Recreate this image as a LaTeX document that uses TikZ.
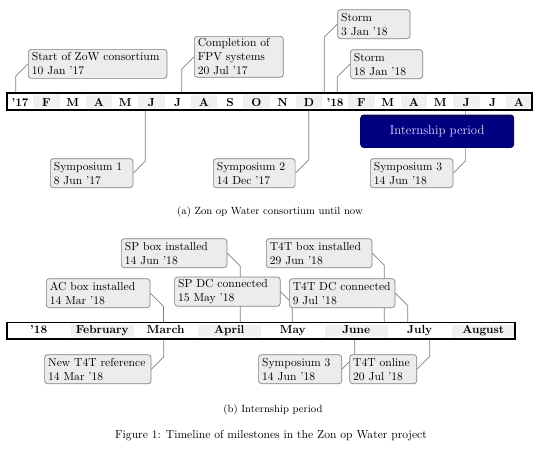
\documentclass[tikz,border=0pt]{standalone}
\usepackage{xcolor}
\usepackage{tikz}
\usetikzlibrary{calc, positioning, backgrounds}
\definecolor{navy}{rgb}{0,0,0.5}
\tikzset{
  event/.style={draw=gray, fill=gray!15, line width=0.6pt, rounded corners=2.5pt,
    inner xsep=3pt, inner ysep=2pt, align=left, text width=#1,
    minimum height=25pt, anchor=north west},
  event/.default=60pt,
  link/.style={gray, line width=0.6pt},
  cellfill/.style={fill=gray!12},
  month/.style={font=\bfseries, inner sep=0pt, anchor=base},
  timebar/.style={draw=black, line width=1.4pt},
  phase/.style={fill=navy, text=blue!12!white, rounded corners=3pt, anchor=north west,
    font=\fontsize{11}{13}\selectfont},
}

\begin{document}
\begin{tikzpicture}[x=0.862pt, y=-0.862pt]
    \useasboundingbox (0,0) rectangle (540,454);

    % Top: consortium until now
    \coordinate (atop) at (0,93);
    \coordinate (abot) at (0,110);
    \foreach \m [count=\i from 0] in {'17,F,M,A,M,J,J,A,S,O,N,D,'18,F,M,A,M,J,J,A} {
        \ifodd\i\relax \fill[cellfill] ({7+\i*26.25},95) rectangle ++(26.25,13); \fi
        \node[month] at ({7+(\i+0.5)*26.25},106) {\m};
    }

    \node[event=113.5pt] (zow) at (28,49) {Start of ZoW consortium\\10 Jan '17};
    \draw[link] (zow.west) -- ++(-12.3,12.3) coordinate (tzow) -- (tzow |- atop);
    \node[event=70.7pt] (fpv) at (194,36) {Completion of\\FPV systems\\20 Jul '17};
    \draw[link] (fpv.west) -- ++(-12.3,12.3) coordinate (tfpv) -- (tfpv |- atop);
    \node[event=56.4pt] (storma) at (337.3,9.3) {Storm\\3 Jan '18};
    \draw[link] (storma.west) -- ++(-13,13) coordinate (tstorma) -- (tstorma |- atop);
    \node[event=56.4pt] (stormb) at (350,49.3) {Storm\\18 Jan '18};
    \draw[link] (stormb.west) -- ++(-12.7,12.7) coordinate (tstormb) -- (tstormb |- atop);

    \node[event=65.2pt] (syma) at (50,158.3) {Symposium 1\\8 Jun '17};
    \draw[link] (syma.east) -- ++(12,-12) coordinate (tsyma) -- (tsyma |- abot);
    \node[event=64.5pt] (symb) at (213,158.3) {Symposium 2\\14 Dec '17};
    \draw[link] (symb.east) -- ++(13.3,-13.3) coordinate (tsymb) -- (tsymb |- abot);
    \node[event=65.2pt] (symc) at (370,158.3) {Symposium 3\\14 Jun '18};
    \draw[link] (symc.east) -- ++(12.3,-12.3) coordinate (tsymc) -- (tsymc |- abot);

    \node[phase, minimum width=132.7pt, minimum height=28.8pt] (intern) at (360,114.3) {Internship period};
    \draw[timebar] (7,93) rectangle (532,110);
    \node[font=\small] (capa) at (270,212) {(a) Zon op Water consortium until now};

    % Bottom: internship period
    \coordinate (btop) at (0,322.5);
    \coordinate (bbot) at (0,339);
    \foreach \m [count=\i from 0] in {'18,February,March,April,May,June,July,August} {
        \ifodd\i\relax \fill[cellfill] ({7+\i*63.5},324.5) rectangle ++(63.5,12.5); \fi
        \node[month] at ({7+(\i+0.5)*63.5},333.5) {\m};
    }

    \node[event=85pt] (spbox) at (121,238.3) {SP box installed\\14 Jun '18};
    \draw[link] (spbox.east) -- ++(13,13) coordinate (tspbox) -- (tspbox |- btop);
    \node[event=85pt] (spdc) at (174.3,276.7) {SP DC connected\\15 May '18};
    \draw[link] (spdc.east) -- ++(11.7,11.7) coordinate (tspdc) -- (tspdc |- btop);
    \node[event=83.3pt] (acbox) at (46,278.3) {AC box installed\\14 Mar '18};
    \draw[link] (acbox.east) -- ++(13.3,13.3) coordinate (tacbox) -- (tacbox |- btop);
    \node[event=85pt] (tbox) at (266,238.3) {T4T box installed\\29 Jun '18};
    \draw[link] (tbox.east) -- ++(12,12) coordinate (ttbox) -- (ttbox |- btop);
    \node[event=85pt] (tdc) at (289,278.3) {T4T DC connected\\9 Jul '18};
    \draw[link] (tdc.east) -- ++(12.4,12.4) coordinate (ttdc) -- (ttdc |- btop);

    \node[event=85.7pt] (newref) at (44.3,354.3) {New T4T reference\\14 Mar '18};
    \draw[link] (newref.east) -- ++(12.3,-12.3) coordinate (tnewref) -- (tnewref |- bbot);
    \node[event=65.6pt] (symd) at (258.3,354.3) {Symposium 3\\14 Jun '18};
    \draw[link] (symd.east) -- ++(12.6,-12.6) coordinate (tsymd) -- (tsymd |- bbot);
    \node[event=51.8pt] (online) at (349.3,354.3) {T4T online\\20 Jul '18};
    \draw[link] (online.east) -- ++(12.6,-12.6) coordinate (tonline) -- (tonline |- bbot);

    \draw[timebar] (7,322.5) rectangle (515,339);
    \node[font=\small] (capb) at (273,410) {(b) Internship period};
    \node (fig) at (271,436) {Figure 1: Timeline of milestones in the Zon op Water project};
\end{tikzpicture}
\end{document}
